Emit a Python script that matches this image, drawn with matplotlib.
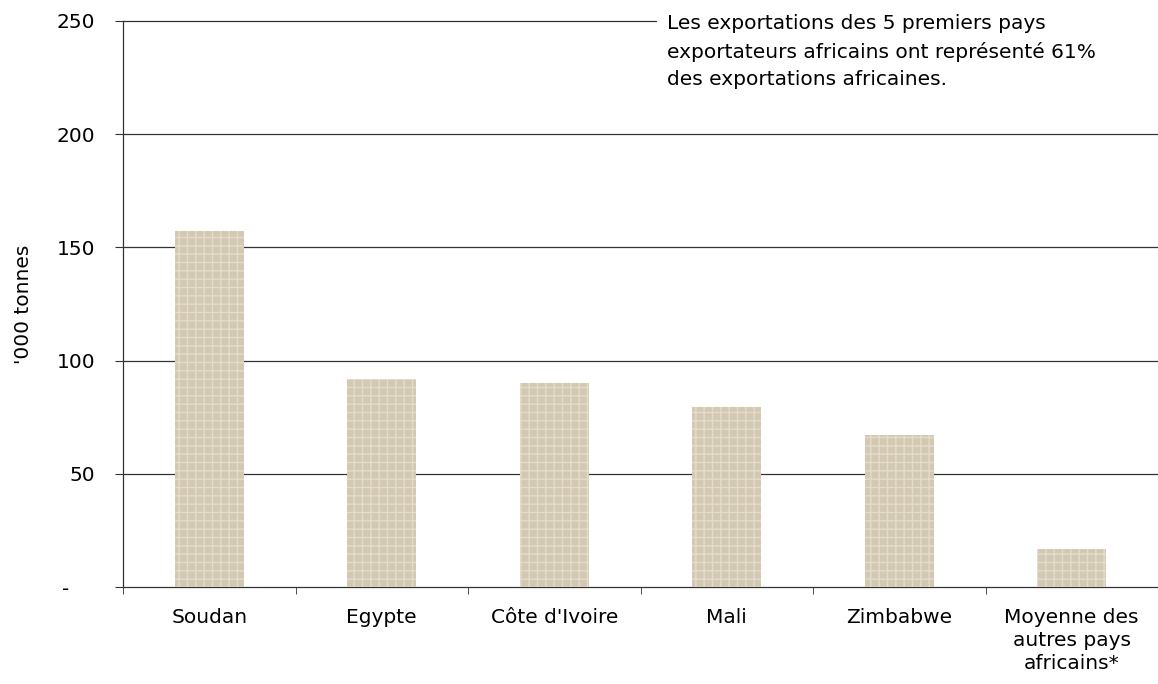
import matplotlib
matplotlib.use("Agg")
import matplotlib.pyplot as plt
import matplotlib.transforms as mtransforms
import numpy as np

categories = ["Soudan", "Egypte", "Côte d'Ivoire", "Mali", "Zimbabwe",
              "Moyenne des\nautres pays\nafricains*"]
values = [157.2, 91.9, 90.1, 79.5, 67.1, 16.8]
yticks = [0, 50, 100, 150, 200, 250]
ytick_labels = ["-", "50", "100", "150", "200", "250"]
note = ("Les exportations des 5 premiers pays\n"
        "exportateurs africains ont représenté 61%\n"
        "des exportations africaines.")

plt.rcParams['font.family'] = ['DejaVu Sans']
plt.rcParams['hatch.color'] = '#e4dccb'
plt.rcParams['hatch.linewidth'] = 1.0

FS = 14.5
W, H = 1158, 684
fig = plt.figure(figsize=(W / 100, H / 100), dpi=100)
ax = fig.add_axes([123 / W, 1 - 587 / H, 1 - 123 / W, (587 - 21) / H])

x = np.arange(len(categories))
ax.bar(x, values, width=0.4, color='#d3c8b2', hatch='++', linewidth=0, zorder=3)

ax.set_xlim(-0.5, len(categories) - 0.5)
ax.set_ylim(0, 250)
ax.set_yticks(yticks)
ax.set_yticklabels(ytick_labels, fontsize=FS)
ax.set_xticks(x)
ax.set_xticklabels(categories, fontsize=FS, linespacing=1.28)
ax.tick_params(axis='x', length=0, pad=15)
ax.set_xticks(np.arange(-0.5, len(categories)), minor=True)
ax.tick_params(axis='x', which='minor', length=5, direction='out', color='#333333')
ax.tick_params(axis='y', length=6, direction='out', color='#333333', pad=14)

# shift the "-" (zero) label left, like the accounting format of the original
lbl0 = ax.get_yticklabels()[0]
lbl0.set_transform(lbl0.get_transform() +
                   mtransforms.ScaledTranslation(-26 / 100, 0, fig.dpi_scale_trans))

for y in yticks[1:-1]:
    ax.axhline(y, color='#333333', linewidth=0.9, zorder=1)
ax.axhline(250, xmax=(656 - 123) / (W - 123), color='#333333', linewidth=0.9,
           zorder=1, clip_on=False)

for s in ['top', 'right']:
    ax.spines[s].set_visible(False)
for s in ['left', 'bottom']:
    ax.spines[s].set_color('#333333')
    ax.spines[s].set_linewidth(0.9)

fig.text(24 / W, 1 - 304 / H, "'000 tonnes", fontsize=FS, rotation=90,
         ha='center', va='center')

fig.text(667 / W, 1 - 14 / H, note, fontsize=FS, va='top', ha='left',
         linespacing=1.55)

fig.savefig("out.png", dpi=100)
